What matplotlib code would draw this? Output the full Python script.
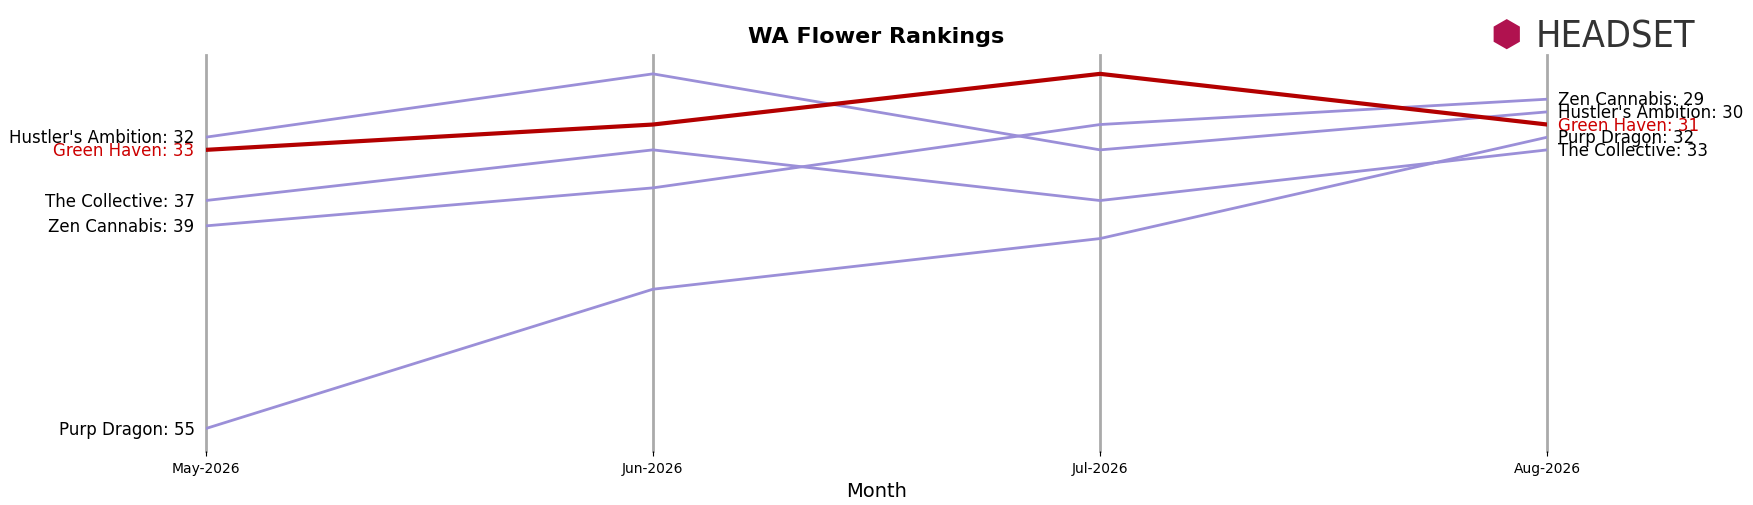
import matplotlib
matplotlib.use("Agg")
import matplotlib.pyplot as plt

months = ["May-2026", "Jun-2026", "Jul-2026", "Aug-2026"]
brands = ["Hustler's Ambition", "Green Haven", "The Collective", "Zen Cannabis", "Purp Dragon"]
hustler = [32, 27, 33, 30]
green_haven = [33, 31, 27, 31]
collective = [37, 33, 37, 33]
zen = [39, 36, 31, 29]
purp = [55, 44, 40, 32]
series = [hustler, green_haven, collective, zen, purp]

W, H = 1568, 453
fig = plt.figure(figsize=(17.53, 5.06), dpi=100)
ax = fig.add_axes([184/W, 1-405/H, 1200/W, 355/H])
x = list(range(len(months)))
for name, vals in zip(brands, series):
    hl = name == "Green Haven"
    ax.plot(x, vals, color="#b30000" if hl else "#9b8fd8", lw=3 if hl else 2, zorder=3 if hl else 2)
    c = "#cc0000" if hl else "black"
    ax.text(-0.025, vals[0], f"{name}: {vals[0]}", ha="right", va="center", fontsize=12, color=c)
    ax.text(3.025, vals[-1], f"{name}: {vals[-1]}", ha="left", va="center", fontsize=12, color=c)
ax.set_xlim(0, 3)
ax.set_ylim(56.8, 25.5)
ax.set_xticks(x)
ax.set_xticklabels(months, fontsize=10)
ax.set_yticks([])
for xi in x:
    ax.axvline(xi, color="#aaaaaa", lw=2, zorder=1, clip_on=False)
for s in ax.spines.values():
    s.set_visible(False)
ax.set_xlabel("Month", fontsize=14)
fig.text(784/W, 1-33/H, "WA Flower Rankings", ha="center", va="center", fontsize=16, fontweight="bold")
fig.text(1333/W, 1-33/H, "\u2B22", ha="left", va="center", fontsize=26, color="#b0124f")
fig.text(1374/W, 1-34/H, "HEADSET", ha="left", va="center", fontsize=27, color="#333333",
         fontstretch="condensed", fontfamily="DejaVu Sans")
fig.savefig("out.png", dpi=100)
